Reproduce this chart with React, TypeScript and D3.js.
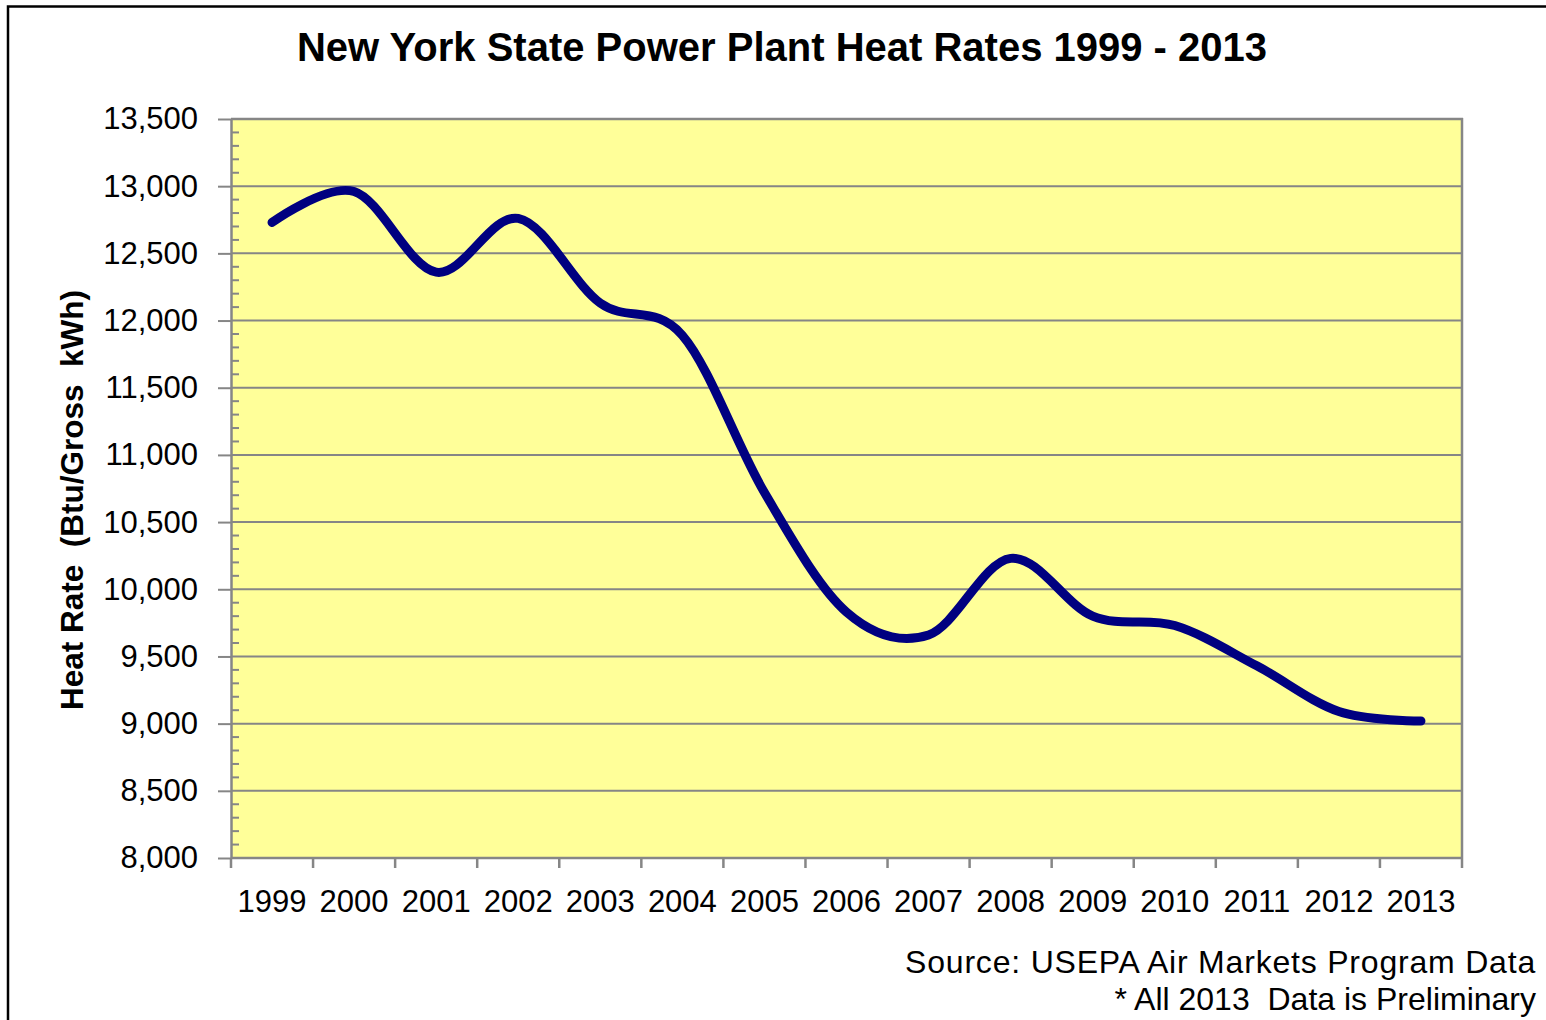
import React, { useEffect, useRef } from "react";
import * as d3 from "d3";

const years = ["1999", "2000", "2001", "2002", "2003", "2004", "2005", "2006", "2007", "2008", "2009", "2010", "2011", "2012", "2013"];
const heatRates = [12730, 12960, 12360, 12760, 12130, 11890, 10720, 9830, 9660, 10230, 9800, 9730, 9430, 9090, 9020];
const yTicks = [8000, 8500, 9000, 9500, 10000, 10500, 11000, 11500, 12000, 12500, 13000, 13500];
const titleText = "New York State Power Plant Heat Rates 1999 - 2013";
const yLabel = "Heat Rate  (Btu/Gross  kWh)";
const notes = ["Source: USEPA Air Markets Program Data", "* All 2013  Data is Preliminary"];

const W = 1546;
const H = 1020;
const FONT = "Arial, 'Liberation Sans', sans-serif";

export default function App() {
  const ref = useRef<SVGSVGElement>(null);

  useEffect(() => {
    const svg = d3.select(ref.current);
    svg.selectAll("*").remove();

    const left = 231, right = 1462, top = 119, bottom = 858;

    const x = d3.scaleBand<string>().domain(years).range([left, right]).padding(0);
    const y = d3.scaleLinear().domain([8000, 13500]).range([bottom, top]);

    svg.append("rect").attr("width", W).attr("height", H).attr("fill", "#fff");

    // outer chart frame (right/bottom edges fall outside the picture)
    svg.append("rect")
      .attr("x", 8).attr("y", 6.5)
      .attr("width", W + 20).attr("height", H + 20)
      .attr("fill", "none").attr("stroke", "#000").attr("stroke-width", 2.5);

    // plot area
    svg.append("rect")
      .attr("x", left).attr("y", top)
      .attr("width", right - left).attr("height", bottom - top)
      .attr("fill", "#FFFF99");

    // gridlines
    svg.append("g")
      .selectAll("line")
      .data(yTicks.filter((d) => d > 8000))
      .join("line")
      .attr("x1", left).attr("x2", right)
      .attr("y1", (d) => y(d)).attr("y2", (d) => y(d))
      .attr("stroke", "#868686").attr("stroke-width", 2);

    // right border of plot
    svg.append("line")
      .attr("x1", right).attr("x2", right).attr("y1", top - 1).attr("y2", bottom)
      .attr("stroke", "#868686").attr("stroke-width", 2.5);

    // minor ticks (inside)
    const minor = d3.range(8100, 13500, 100).filter((d) => d % 500 !== 0);
    svg.append("g")
      .selectAll("line")
      .data(minor)
      .join("line")
      .attr("x1", left).attr("x2", left + 8)
      .attr("y1", (d) => y(d)).attr("y2", (d) => y(d))
      .attr("stroke", "#868686").attr("stroke-width", 2);

    // y axis
    const yAxis = svg.append("g")
      .attr("transform", `translate(${left},0)`)
      .call(
        d3.axisLeft(y)
          .tickValues(yTicks)
          .tickFormat(d3.format(","))
          .tickSize(13)
          .tickSizeOuter(0)
          .tickPadding(20)
      );
    yAxis.select(".domain").attr("stroke", "#868686").attr("stroke-width", 2.5);
    yAxis.selectAll(".tick line").attr("stroke", "#868686").attr("stroke-width", 2);
    yAxis.selectAll("text")
      .attr("fill", "#000")
      .style("font-family", FONT)
      .style("font-size", "31px");

    // x axis: labels at band centres, ticks at band edges
    const xAxis = svg.append("g")
      .attr("transform", `translate(0,${bottom})`)
      .call(d3.axisBottom(x).tickSize(0).tickPadding(32));
    xAxis.select(".domain").remove();
    xAxis.selectAll("text")
      .attr("fill", "#000")
      .style("font-family", FONT)
      .style("font-size", "31px");

    const edges = years.map((d) => x(d) as number).concat([right]);
    svg.append("g")
      .selectAll("line")
      .data(edges)
      .join("line")
      .attr("x1", (d) => d).attr("x2", (d) => d)
      .attr("y1", bottom).attr("y2", bottom + 10)
      .attr("stroke", "#868686").attr("stroke-width", 2.5);
    svg.append("line")
      .attr("x1", left).attr("x2", right + 1).attr("y1", bottom).attr("y2", bottom)
      .attr("stroke", "#868686").attr("stroke-width", 2.5);
    svg.append("line")
      .attr("x1", left).attr("x2", right + 1).attr("y1", top).attr("y2", top)
      .attr("stroke", "#868686").attr("stroke-width", 2.5);

    // data line
    const line = d3.line<number>()
      .x((_, i) => (x(years[i]) as number) + x.bandwidth() / 2)
      .y((d) => y(d))
      .curve(d3.curveCatmullRom.alpha(0));
    svg.append("path")
      .datum(heatRates)
      .attr("d", line)
      .attr("fill", "none")
      .attr("stroke", "#000080")
      .attr("stroke-width", 9)
      .attr("stroke-linecap", "round")
      .attr("stroke-linejoin", "round");

    // title
    svg.append("text")
      .attr("x", 782).attr("y", 61)
      .attr("text-anchor", "middle")
      .style("font-family", FONT)
      .style("font-size", "40px")
      .style("font-weight", "bold")
      .text(titleText);

    // y label
    svg.append("text")
      .attr("transform", `translate(83,500) rotate(-90)`)
      .attr("text-anchor", "middle")
      .style("font-family", FONT)
      .style("font-size", "31.5px")
      .style("font-weight", "bold")
      .style("white-space", "pre")
      .text(yLabel);

    // notes
    svg.append("g")
      .selectAll("text")
      .data(notes)
      .join("text")
      .attr("x", 1536)
      .attr("y", (_, i) => 973 + i * 37)
      .attr("text-anchor", "end")
      .style("font-family", FONT)
      .style("font-size", "32px")
      .style("white-space", "pre")
      .style("letter-spacing", (_, i) => (i === 0 ? "0.8px" : "0px"))
      .text((d) => d);
  }, []);

  return (
    <div style={{ position: "absolute", left: 0, top: 0 }}>
      <svg ref={ref} width={W} height={H} style={{ display: "block" }} />
    </div>
  );
}
